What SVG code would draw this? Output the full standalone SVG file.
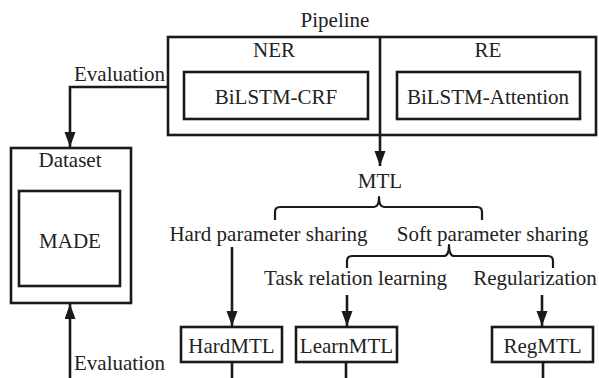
<svg xmlns="http://www.w3.org/2000/svg" width="599" height="378" viewBox="0 0 599 378">
<style>
  .box{fill:none;stroke:#1a1a1a;stroke-width:2.6}
  .ln{fill:none;stroke:#1a1a1a;stroke-width:2.6}
  .br{fill:none;stroke:#1a1a1a;stroke-width:2.2;stroke-linejoin:round}
  text{font-family:'Liberation Serif', 'DejaVu Serif', serif;font-size:21px;fill:#222}
  .c{text-anchor:middle}
</style>
<defs>
  <marker id="arr" markerUnits="userSpaceOnUse" markerWidth="16" markerHeight="12" refX="15" refY="5.5" orient="auto">
    <path d="M0,0 L15,5.5 L0,11 z" fill="#1a1a1a"/>
  </marker>
</defs>
<rect width="599" height="378" fill="#ffffff"/>
<g font-family="Liberation Serif, serif">
<g id="pipeline">
  <text class="c" x="335" y="27">Pipeline</text>
  <rect class="box" x="168" y="37" width="428" height="98"/>
</g>
<g id="ner">
  <text class="c" x="274" y="57">NER</text>
  <rect class="box" x="184" y="72" width="184" height="47"/>
  <text class="c" x="276" y="104">BiLSTM-CRF</text>
</g>
<g id="re">
  <text class="c" x="488" y="57">RE</text>
  <rect class="box" x="397" y="72" width="183" height="47"/>
  <text class="c" x="488" y="104">BiLSTM-Attention</text>
</g>
<g id="dataset">
  <rect class="box" x="11" y="148" width="120" height="155"/>
  <text class="c" x="70" y="167">Dataset</text>
  <rect class="box" x="19" y="191" width="101" height="95"/>
  <text class="c" x="70" y="248">MADE</text>
</g>
<g id="mtl">
  <text class="c" x="380" y="188">MTL</text>
</g>
<g id="hard-label"><text class="c" x="268.5" y="241">Hard parameter sharing</text></g>
<g id="soft-label"><text class="c" x="492.5" y="241">Soft parameter sharing</text></g>
<g id="task-label"><text class="c" x="355.5" y="285">Task relation learning</text></g>
<g id="reg-label"><text class="c" x="535" y="285">Regularization</text></g>
<g id="hardmtl">
  <rect class="box" x="181" y="327" width="101" height="35"/>
  <text class="c" x="231.5" y="353">HardMTL</text>
</g>
<g id="learnmtl">
  <rect class="box" x="296" y="327" width="101" height="35"/>
  <text class="c" x="346.5" y="353">LearnMTL</text>
</g>
<g id="regmtl">
  <rect class="box" x="492" y="327" width="101" height="35"/>
  <text class="c" x="542.5" y="353">RegMTL</text>
</g>

<g id="connectors">
  <path class="ln" d="M168,87 H70 V147" marker-end="url(#arr)"/>
  <text x="74" y="81">Evaluation</text>
  <path class="ln" d="M380,37 V166" marker-end="url(#arr)"/>
  <path class="br" d="M275,220 V212 Q275,207 280,207 H374 Q379,207 379,197 Q379,207 384,207 H477 Q482,207 482,212 V220"/>
  <path class="br" d="M347,268 V261 Q347,256 352,256 H444 Q449,256 449,245 Q449,256 454,256 H548 Q553,256 553,261 V268"/>
  <path class="ln" d="M232,247 V326" marker-end="url(#arr)"/>
  <path class="ln" d="M347,295 V326" marker-end="url(#arr)"/>
  <path class="ln" d="M542,295 V326" marker-end="url(#arr)"/>
  <path class="ln" d="M70,378 V304" marker-end="url(#arr)"/>
  <text x="74" y="370">Evaluation</text>
  <path class="ln" d="M232,362 V378"/>
  <path class="ln" d="M346,362 V378"/>
  <path class="ln" d="M543,362 V378"/>
</g>
</g>
</svg>
